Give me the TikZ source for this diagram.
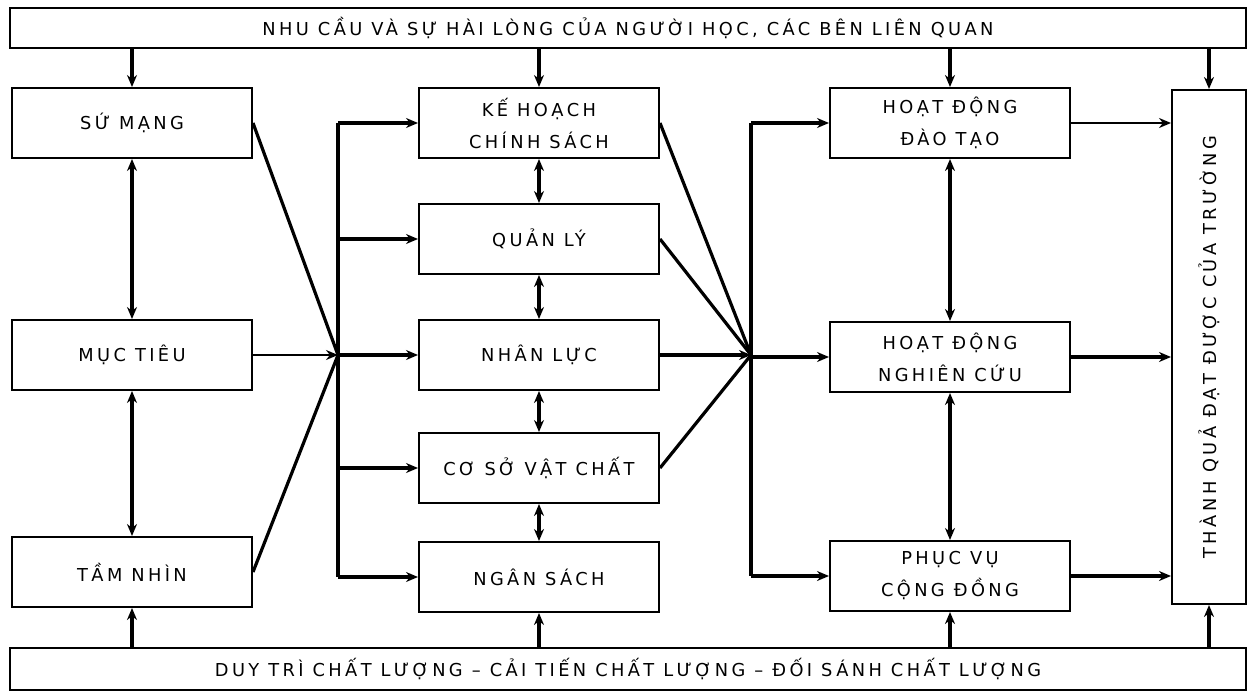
\documentclass[tikz,border=0pt]{standalone}
\usepackage{fontspec}
\newfontfamily\boxfont{DejaVu Sans}[LetterSpace=19]
\usetikzlibrary{arrows.meta, positioning, calc}

\begin{document}
\begin{tikzpicture}[
    x=1pt, y=-1pt,
    box/.style={
        rectangle, draw, line width=2pt,
        minimum width=240pt, minimum height=70pt,
        align=center, inner sep=2pt,
        font=\boxfont\fontsize{17.8}{32}\selectfont
    },
    bar/.style={
        box, minimum width=1236pt, minimum height=40pt
    },
    arrow/.style={
        -{Stealth[length=12pt, width=10pt]}, line width=3.2pt
    },
    twoway/.style={
        {Stealth[length=12pt, width=10pt]}-{Stealth[length=12pt, width=10pt]},
        line width=3.2pt
    },
    link/.style={
        line width=3.2pt
    }
]
\useasboundingbox (0,0) rectangle (1249,693);

\node[bar] (needs) at (628,28) {NHU CẦU VÀ SỰ HÀI LÒNG CỦA NGƯỜI HỌC, CÁC BÊN LIÊN QUAN};
\node[bar, minimum height=42pt] (quality) at (628,669)
    {DUY TRÌ CHẤT LƯỢNG – CẢI TIẾN CHẤT LƯỢNG – ĐỐI SÁNH CHẤT LƯỢNG};

% cot trai
\node[box] (mission) at (132,123) {SỨ MẠNG};
\node[box] (goals) at (132,355) {MỤC TIÊU};
\node[box] (vision) at (132,572) {TẦM NHÌN};

% cot giua
\node[box] (plan) at (539,123) {KẾ HOẠCH\\CHÍNH SÁCH};
\node[box] (manage) at (539,239) {QUẢN LÝ};
\node[box] (staff) at (539,355) {NHÂN LỰC};
\node[box] (facility) at (539,468) {CƠ SỞ VẬT CHẤT};
\node[box] (budget) at (539,577) {NGÂN SÁCH};

% cot phai
\node[box] (teach) at (950,123) {HOẠT ĐỘNG\\ĐÀO TẠO};
\node[box] (research) at (950,357) {HOẠT ĐỘNG\\NGHIÊN CỨU};
\node[box] (service) at (950,576) {PHỤC VỤ\\CỘNG ĐỒNG};

\node[box, rotate=90, minimum width=514pt, minimum height=74pt] (result)
    at (1209,347) {THÀNH QUẢ ĐẠT ĐƯỢC CỦA TRƯỜNG};

\coordinate (hub1) at (338,355);
\coordinate (hub2) at (751,355);

% tu tren xuong, tu duoi len
\foreach \n in {mission, plan, teach}
    \draw[arrow] (needs.south -| \n.north) -- (\n.north);
\draw[arrow] (needs.south -| result.east) -- (result.east);
\foreach \n in {vision, budget, service}
    \draw[arrow] (quality.north -| \n.south) -- (\n.south);
\draw[arrow] (quality.north -| result.west) -- (result.west);

% hai chieu
\draw[twoway] (mission) -- (goals);
\draw[twoway] (goals) -- (vision);
\draw[twoway] (plan) -- (manage);
\draw[twoway] (manage) -- (staff);
\draw[twoway] (staff) -- (facility);
\draw[twoway] (facility) -- (budget);
\draw[twoway] (teach) -- (research);
\draw[twoway] (research) -- (service);

% vao hub1
\draw[link] (mission.east) -- (hub1);
\draw[link] (vision.east) -- (hub1);
\draw[arrow, line width=2pt] (goals.east) -- (hub1);
\draw[link] (hub1 |- plan) -- (hub1 |- budget);
\foreach \n in {plan, manage, staff, facility, budget}
    \draw[arrow] (hub1 |- \n) -- (\n.west);

% vao hub2
\draw[link] (plan.east) -- (hub2);
\draw[link] (manage.east) -- (hub2);
\draw[link] (facility.east) -- (hub2);
\draw[arrow] (staff.east) -- (hub2);
\draw[link] (hub2 |- teach) -- (hub2 |- service);
\foreach \n in {teach, research, service}
    \draw[arrow] (hub2 |- \n) -- (\n.west);

% sang thanh qua
\draw[arrow, line width=2.2pt] (teach.east) -- (teach.east -| result.north);
\draw[arrow] (research.east) -- (research.east -| result.north);
\draw[arrow] (service.east) -- (service.east -| result.north);

\end{tikzpicture}
\end{document}
